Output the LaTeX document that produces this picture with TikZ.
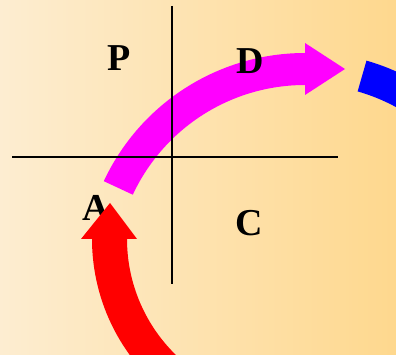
\documentclass[tikz,border=0pt]{standalone}
\usepackage{fontspec}
\setmainfont{Liberation Serif}
\definecolor{bgL}{RGB}{253,237,209}
\definecolor{bgR}{RGB}{254,216,142}
\definecolor{magP}{RGB}{255,0,255}
\definecolor{redA}{RGB}{255,0,0}
\definecolor{blueC}{RGB}{0,0,255}
\tikzset{
  lbl/.style={inner sep=0pt, font=\fontsize{38}{40}\selectfont\bfseries},
  axis/.style={draw=black, line width=1.3pt}
}
\begin{document}
\begin{tikzpicture}[x=1pt,y=-1pt]
\useasboundingbox (0,0) rectangle (396,355);
\clip (0,0) rectangle (396,355);
\shade[left color=bgL, right color=bgR] (0,0) rectangle (396,355);
% blue arc (start of next stage)
\begin{scope}[shift={(305,275)}]
\fill[blueC] (286:223) arc[start angle=286,end angle=335,radius=223]
  -- (335:191) arc[start angle=335,end angle=286,radius=191] -- cycle;
% magenta arc arrow A -> D
\fill[magP] (205:222) arc[start angle=205,end angle=270,radius=222]
  -- (0,-232) -- (40,-206) -- (0,-180) -- (0,-190)
  arc[start angle=270,end angle=205,radius=190] -- cycle;
\end{scope}
% axes
\coordinate (vt) at (172,6);
\coordinate (vb) at (172,284);
\coordinate (hl) at (12,157);
\coordinate (hr) at (338,157);
\draw[axis] (vt) -- (vb);
\draw[axis] (hl) -- (hr);
% labels
\node[lbl] (P) at (119,58) {P};
\node[lbl] (D) at (250,61) {D};
\node[lbl] (C) at (249,223) {C};
\node[lbl] (A) at (96,208) {A};
% red arc arrow
\begin{scope}[shift={(289,239)}]
\fill[redA] (125:197) arc[start angle=125,end angle=180,radius=197]
  -- (-208,0) -- (-179,-36) -- (-152,0) -- (-162,0)
  arc[start angle=180,end angle=125,radius=162] -- cycle;
\end{scope}
\end{tikzpicture}
\end{document}
